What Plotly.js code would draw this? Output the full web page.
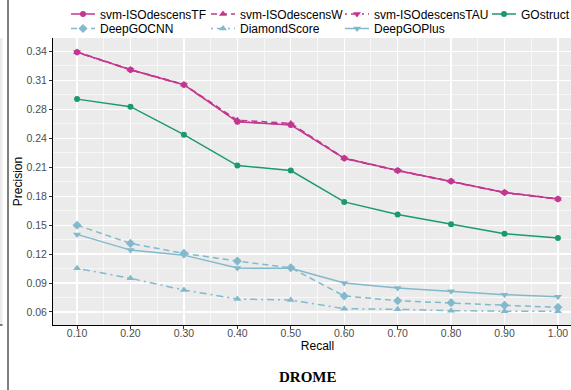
<!DOCTYPE html>
<html>
<head>
<meta charset="utf-8">
<script src="https://cdn.plot.ly/plotly-3.0.1.min.js"></script>
<style>
  html, body { margin: 0; padding: 0; overflow: hidden; background: #fff; }
  #chart { width: 610px; height: 390px; }
</style>
</head>
<body>
<div id="chart"></div>
<script>
// ---- data ----
const recall = [0.1, 0.2, 0.3, 0.4, 0.5, 0.6, 0.7, 0.8, 0.9, 1.0];
const recallLabels = ['0.10','0.20','0.30','0.40','0.50','0.60','0.70','0.80','0.90','1.00'];
const precisionLabels = ['0.06','0.09','0.12','0.15','0.18','0.21','0.24','0.28','0.31','0.34'];

const svmTF  = [0.3393, 0.3204, 0.3043, 0.2644, 0.2611, 0.2252, 0.2120, 0.2005, 0.1884, 0.1815];
const svmW   = [0.3395, 0.3206, 0.3046, 0.2662, 0.2627, 0.2255, 0.2122, 0.2007, 0.1886, 0.1817];
const svmTAU = [0.3391, 0.3202, 0.3041, 0.2648, 0.2614, 0.2250, 0.2118, 0.2003, 0.1882, 0.1813];
const goStruct     = [0.2888, 0.2807, 0.2506, 0.2174, 0.2120, 0.1783, 0.1648, 0.1544, 0.1440, 0.1394];
const deepGOCNN    = [0.1533, 0.1337, 0.1230, 0.1147, 0.1075, 0.0772, 0.0721, 0.0700, 0.0672, 0.0650];
const diamondScore = [0.1069, 0.0962, 0.0836, 0.0739, 0.0729, 0.0635, 0.0629, 0.0614, 0.0608, 0.0608];
const deepGOPlus   = [0.1434, 0.1265, 0.1211, 0.1072, 0.1069, 0.0911, 0.0857, 0.0822, 0.0786, 0.0764];

// ---- styling ----
const MAG = '#c2378f', GRN = '#1b9a70', BLU = '#82b9cc';
const FONT = 'Liberation Sans, Arial, Helvetica, sans-serif';
const DASH = '6px,4px', DOTDASH = '2px,4px,7px,4px';

// the original panel runs past the right edge of the 571px picture; it is cropped there
const W = 610, H = 390, ML = 53, MR = 28, MT = 38, MB = 65;
const pw = W - ML - MR, ph = H - MT - MB;
const px = p => (p - ML) / pw;
const py = p => (H - MB - p) / ph;

// y ticks equally spaced between 0.06 and 0.34
const yTickVals = precisionLabels.map((_, i) => 0.06 + i * 0.28 / (precisionLabels.length - 1));
const yMinor = yTickVals.slice(0, -1).map((v, i) => (v + yTickVals[i + 1]) / 2);
const xMinor = recall.slice(0, -1).map((v, i) => (v + recall[i + 1]) / 2);

function tr(name, y, color, dash, symbol, msize, legend) {
  return {
    type: 'scatter', mode: 'lines+markers', name: name, x: recall, y: y,
    line: {color: color, width: 1.5, dash: dash},
    marker: {color: color, symbol: symbol, size: msize},
    legend: legend
  };
}

const traces = [
  tr('DiamondScore', diamondScore, BLU, DOTDASH, 'triangle-up', 7, 'legend6'),
  tr('DeepGOCNN', deepGOCNN, BLU, DASH, 'diamond', 7, 'legend5'),
  tr('DeepGOPlus', deepGOPlus, BLU, 'solid', 'triangle-down', 7, 'legend7'),
  tr('GOstruct', goStruct, GRN, 'solid', 'circle', 6, 'legend4'),
  tr('svm-ISOdescensTAU', svmTAU, MAG, DOTDASH, 'triangle-down', 7, 'legend3'),
  tr('svm-ISOdescensW', svmW, MAG, DASH, 'triangle-up', 7, 'legend2'),
  tr('svm-ISOdescensTF', svmTF, MAG, 'solid', 'circle', 6, 'legend')
];

function leg(xpx, ypx) {
  return {
    orientation: 'h', x: px(xpx), xanchor: 'left', y: 1 + (MT - ypx) / ph, yanchor: 'middle',
    font: {family: FONT, size: 12, color: '#000'}, bgcolor: 'rgba(0,0,0,0)', itemwidth: 30
  };
}

const layout = {
  width: W, height: H,
  margin: {l: ML, r: MR, t: MT, b: MB, pad: 0, autoexpand: false},
  paper_bgcolor: '#ffffff', plot_bgcolor: '#EBEBEB',
  font: {family: FONT, color: '#000'},
  showlegend: true,
  xaxis: {
    range: [0.055, 1.045], tickvals: recall, ticktext: recallLabels,
    showline: true, linecolor: '#000', linewidth: 1, mirror: false,
    ticks: 'outside', ticklen: 3, tickcolor: '#333', tickwidth: 1, ticklabelstandoff: -5,
    showgrid: true, gridcolor: '#ffffff', gridwidth: 1.3, zeroline: false,
    minor: {tickvals: xMinor, showgrid: true, gridcolor: '#ffffff', gridwidth: 0.6, ticks: ''},
    tickfont: {family: FONT, size: 10.5, color: '#4D4D4D'},
    title: {text: 'Recall', font: {family: FONT, size: 12, color: '#000'}, standoff: 3},
    fixedrange: true
  },
  yaxis: {
    range: [0.046, 0.3545], tickvals: yTickVals, ticktext: precisionLabels,
    showline: true, linecolor: '#000', linewidth: 1, mirror: false,
    ticks: 'outside', ticklen: 3, tickcolor: '#333', tickwidth: 1,
    showgrid: true, gridcolor: '#ffffff', gridwidth: 1.3, zeroline: false,
    minor: {tickvals: yMinor, showgrid: true, gridcolor: '#ffffff', gridwidth: 0.6, ticks: ''},
    tickfont: {family: FONT, size: 10.5, color: '#4D4D4D'},
    title: {text: 'Precision', font: {family: FONT, size: 12, color: '#000'}, standoff: 1},
    fixedrange: true
  },
  legend:  leg(60, 14),
  legend2: leg(200, 14),
  legend3: leg(334, 14),
  legend4: leg(481, 14),
  legend5: leg(60, 28.5),
  legend6: leg(200, 28.5),
  legend7: leg(334, 28.5),
  annotations: [{
    text: '<b>DROME</b>', xref: 'paper', yref: 'paper', x: px(307.5), y: py(377),
    xanchor: 'center', yanchor: 'middle', showarrow: false,
    font: {family: 'Liberation Serif, Times New Roman, serif', size: 15, color: '#000'}
  }],
  shapes: [
    {type: 'line', xref: 'paper', yref: 'paper', x0: px(8), x1: px(8), y0: py(390), y1: py(0),
     line: {color: '#000', width: 1}},
    {type: 'rect', xref: 'paper', yref: 'paper', x0: px(0), x1: px(2.5), y0: py(325), y1: py(38),
     fillcolor: '#EBEBEB', line: {width: 0}},
    {type: 'line', xref: 'paper', yref: 'paper', x0: px(0), x1: px(2.5), y0: py(325), y1: py(325),
     line: {color: '#000', width: 1}}
  ]
};

function shortenKeys(gd) {
  try {
    gd.querySelectorAll('g.legendlines path').forEach(p => p.setAttribute('d', 'M11,0h24'));
    gd.querySelectorAll('g.legendpoints path.scatterpts').forEach(p => {
      p.setAttribute('transform', 'translate(23,0)');
    });
  } catch (e) {}
}

const gdiv = document.getElementById('chart');
Plotly.newPlot(gdiv, traces, layout, {displayModeBar: false, staticPlot: true}).then(gd => {
  shortenKeys(gd);
  setTimeout(() => shortenKeys(gdiv), 50);
});
</script>
</body>
</html>
